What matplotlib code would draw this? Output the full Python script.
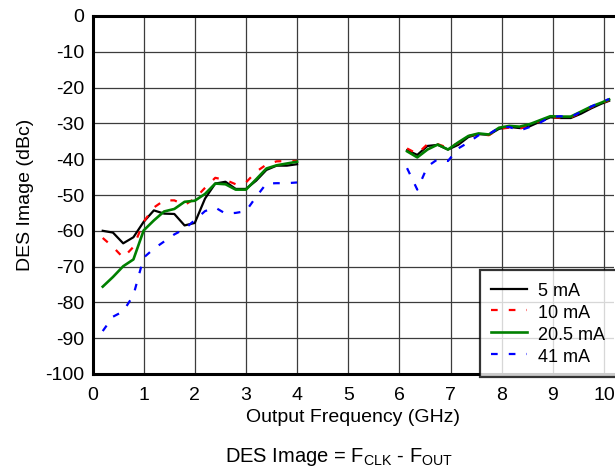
import numpy as np
import matplotlib
matplotlib.use("Agg")
import matplotlib.pyplot as plt

plt.rcParams['font.family'] = ['Liberation Sans', 'DejaVu Sans']
plt.rcParams['mathtext.fontset'] = 'custom'
plt.rcParams['mathtext.rm'] = 'Liberation Sans'

# ---- data ----
x_low = [0.2, 0.4, 0.6, 0.8, 1.0, 1.2, 1.4, 1.6, 1.8, 2.0,
         2.2, 2.4, 2.6, 2.8, 3.0, 3.2, 3.4, 3.6, 3.8, 4.0]
x_high = [6.15, 6.35, 6.55, 6.75, 6.95, 7.15, 7.35, 7.55, 7.75, 7.95,
          8.15, 8.35, 8.55, 8.75, 8.95, 9.15, 9.35, 9.55, 9.75, 9.95, 10.1]

ma5_low = [-60, -60.5, -63.5, -61.8, -57.5, -54.3, -55.2, -55.3, -58.5, -57.8,
           -51, -46.8, -46.3, -48.3, -48.3, -46, -43, -41.8, -41.8, -41.4]
ma5_high = [-37.5, -38.8, -36.3, -36, -37.3, -36, -33.8, -33, -33.2, -31.5,
            -31, -31.3, -30.8, -29.5, -28.3, -28.5, -28.5, -27.3, -25.8, -24.5, -23.7]

ma10_low = [-62, -64.5, -67.5, -64.5, -57.5, -53.5, -51.5, -51.5, -52.8, -51,
            -48, -45.2, -45.8, -47, -46.5, -43.5, -41.5, -40.6, -40.5, -40.5]
ma10_high = [-37, -38.5, -35.8, -35.8, -36.8, -35.5, -33.5, -33, -33.3, -31.5,
             -31.2, -31.5, -30.5, -29.3, -28.3, -28.4, -28.3, -27, -25.5, -24.4, -23.5]

ma20_low = [-75.6, -72.9, -69.9, -68, -59.9, -57.1, -54.6, -53.9, -51.9, -51.6,
            -49.7, -46.8, -47, -48.5, -48.5, -45.6, -42.6, -41.7, -41.2, -40.7]
ma20_high = [-37.8, -39.5, -37.3, -35.9, -37.3, -35.3, -33.5, -32.8, -33.1, -31.2,
             -30.7, -30.9, -30.2, -29.1, -28, -28.1, -28.1, -26.7, -25.3, -24.2, -23.3]

ma41_low = [-88, -84, -82.5, -78, -67.5, -65, -63, -61, -59.5, -57,
            -54.5, -53.5, -55.2, -55, -54.5, -50.5, -46.8, -46.7, -46.7, -46.5]
ma41_high = [-42.5, -48.5, -42, -40, -40.5, -37, -35.3, -33.3, -33, -31.2,
             -31, -32, -31, -29.8, -28.2, -28, -28.2, -26.8, -25.3, -24, -23.2]

labels = ['5 mA', '10 mA', '20.5 mA', '41 mA']
x_ticks = [0, 1, 2, 3, 4, 5, 6, 7, 8, 9, 10]
y_ticks = [0, -10, -20, -30, -40, -50, -60, -70, -80, -90, -100]

# ---- figure ----
W, H = 615, 470
fig = plt.figure(figsize=(W / 100, H / 100), dpi=100)
ax = fig.add_axes([92.5 / W, (H - 374) / H, 521.7 / W, 358 / H])

def combo(a, b):
    return list(a) + [np.nan] + list(b)

xs = combo(x_low, x_high)
ax.plot(xs, combo(ma5_low, ma5_high), color='black', lw=1.6, label=labels[0], zorder=3)
ax.plot(xs, combo(ma10_low, ma10_high), color='#ff0000', lw=1.6, dashes=(3, 5),
        label=labels[1], zorder=4)
ax.plot(xs, combo(ma20_low, ma20_high), color='#008000', lw=1.9, label=labels[2], zorder=5)
ax.plot(xs, combo(ma41_low, ma41_high), color='#0000ff', lw=1.6, dashes=(3, 5),
        label=labels[3], zorder=6)

ax.set_xlim(0, 10.2)
ax.set_ylim(-100, 0)
ax.set_xticks(x_ticks)
ax.set_yticks(y_ticks)
ax.set_yticklabels([str(v) for v in y_ticks])
ax.grid(True, color='#3c3c3c', lw=0.9)
ax.set_axisbelow(True)
ax.tick_params(axis='both', length=0, labelsize=14)
ax.tick_params(axis='x', pad=9)
ax.tick_params(axis='y', pad=6)

for s in ['left', 'top', 'bottom']:
    ax.spines[s].set_linewidth(2.2)
    ax.spines[s].set_color('black')
ax.spines['right'].set_visible(False)

ax.set_xlabel('Output Frequency (GHz)', fontsize=14, labelpad=4)
ax.set_ylabel('DES Image (dBc)', fontsize=14, labelpad=8)

leg = ax.legend(loc='upper left',
                bbox_to_anchor=(480 / W, (H - 270) / H, 150 / W, 0.0),
                bbox_transform=fig.transFigure, mode='expand',
                fontsize=13, frameon=True,
                fancybox=False, borderaxespad=0, borderpad=0.6, labelspacing=0.14,
                handlelength=2.0, handleheight=1.2, handletextpad=0.6)
leg.get_frame().set_edgecolor('black')
leg.get_frame().set_linewidth(1.6)
leg.set_zorder(10)

fig.text(339 / W, 8.5 / H,
         r'DES Image = F$_{\mathregular{CLK}}$ - F$_{\mathregular{OUT}}$',
         fontsize=14.5, ha='center', va='baseline')

fig.savefig('out.png', dpi=100)
